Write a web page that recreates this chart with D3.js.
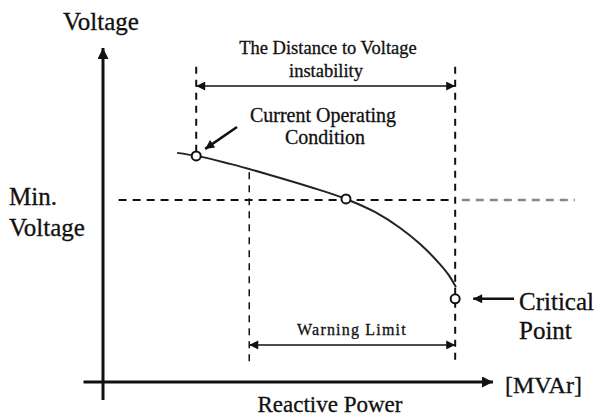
<!DOCTYPE html>
<html>
<head>
<meta charset="utf-8">
<script src="https://cdn.jsdelivr.net/npm/d3@7"></script>
<style>
  body { margin: 0; background: #fff; }
  text { font-family: "Liberation Serif", "DejaVu Serif", serif; fill: #111; stroke: #111; stroke-width: 0.3; }
</style>
</head>
<body>
<div id="chart"></div>
<script>
// Q-V curve (reactive power vs voltage), arbitrary units
var curveQ = [19, 23.9, 32.6, 42.8, 53.1, 62.3, 69.7, 76.2, 81.3, 85.9, 89, 90.5];
var curveV = [68.6, 67.7, 65.3, 62, 58.4, 54.8, 50.9, 46.1, 41.3, 35.9, 31.4, 28.4];

// marked points: current operating condition, min voltage crossing, critical point
var pointNames = ["current", "minCross", "critical"];
var pointQ = [23.9, 62.3, 90.3];
var pointV = [67.7, 54.8, 24.9];

var minVoltage = 54.5;
var warningQ = 37.5;

var svgWidth = 602;
var svgHeight = 418;

var svg = d3.select("#chart")
    .append("svg")
    .attr("width", svgWidth)
    .attr("height", svgHeight);

// scales
var x = d3.scaleLinear().domain([0, 100]).range([103, 493]);
var y = d3.scaleLinear().domain([0, 100]).range([382, 48]);

// arrow markers
var defs = svg.append("defs");
function addMarker(id, w, h) {
    defs.append("marker")
        .attr("id", id)
        .attr("viewBox", "0 0 10 10")
        .attr("refX", 10)
        .attr("refY", 5)
        .attr("markerUnits", "userSpaceOnUse")
        .attr("markerWidth", w)
        .attr("markerHeight", h)
        .attr("orient", "auto-start-reverse")
        .append("path")
        .attr("d", "M0,0 L10,5 L0,10 Z")
        .attr("fill", "#111");
}
addMarker("axisArrow", 16, 11);
addMarker("smallArrow", 14, 9);

// axes
svg.append("line")
    .attr("x1", x(0)).attr("y1", y(-5.4))
    .attr("x2", x(0)).attr("y2", y(100))
    .attr("stroke", "#111").attr("stroke-width", 3)
    .attr("marker-end", "url(#axisArrow)");

svg.append("line")
    .attr("x1", x(-5)).attr("y1", y(0))
    .attr("x2", x(100)).attr("y2", y(0))
    .attr("stroke", "#111").attr("stroke-width", 3)
    .attr("marker-end", "url(#axisArrow)");

// min voltage dashed line
svg.append("line")
    .attr("x1", x(4)).attr("y1", y(minVoltage))
    .attr("x2", x(90.3)).attr("y2", y(minVoltage))
    .attr("stroke", "#111").attr("stroke-width", 2)
    .attr("stroke-dasharray", "8,6");
svg.append("line")
    .attr("x1", x(92)).attr("y1", y(minVoltage))
    .attr("x2", x(121)).attr("y2", y(minVoltage))
    .attr("stroke", "#888").attr("stroke-width", 2.5)
    .attr("stroke-dasharray", "8,6");

// vertical dashed guides
svg.append("line")
    .attr("x1", x(pointQ[0])).attr("y1", y(94.4))
    .attr("x2", x(pointQ[0])).attr("y2", y(69))
    .attr("stroke", "#111").attr("stroke-width", 2)
    .attr("stroke-dasharray", "7,6");
svg.append("line")
    .attr("x1", x(90.3)).attr("y1", y(94.4))
    .attr("x2", x(90.3)).attr("y2", y(5))
    .attr("stroke", "#111").attr("stroke-width", 2)
    .attr("stroke-dasharray", "7,6");
svg.append("line")
    .attr("x1", x(warningQ)).attr("y1", y(62.8))
    .attr("x2", x(warningQ)).attr("y2", y(5))
    .attr("stroke", "#111").attr("stroke-width", 1.5)
    .attr("stroke-dasharray", "7,6");

// distance to voltage instability arrow
svg.append("line")
    .attr("x1", x(pointQ[0])).attr("y1", y(88.6))
    .attr("x2", x(90.3)).attr("y2", y(88.6))
    .attr("stroke", "#111").attr("stroke-width", 1.5)
    .attr("marker-start", "url(#smallArrow)")
    .attr("marker-end", "url(#smallArrow)");

// warning limit arrow
svg.append("line")
    .attr("x1", x(warningQ)).attr("y1", y(11.1))
    .attr("x2", x(90.3)).attr("y2", y(11.1))
    .attr("stroke", "#111").attr("stroke-width", 1.5)
    .attr("marker-start", "url(#smallArrow)")
    .attr("marker-end", "url(#smallArrow)");

// Q-V curve
var curveData = curveQ.map(function(q, i) { return {q: q, v: curveV[i]}; });
var line = d3.line()
    .x(function(d) { return x(d.q); })
    .y(function(d) { return y(d.v); })
    .curve(d3.curveMonotoneX);

svg.append("path")
    .datum(curveData)
    .attr("d", line)
    .attr("fill", "none")
    .attr("stroke", "#222")
    .attr("stroke-width", 2);

// points
svg.selectAll("circle.pt")
    .data(pointNames)
    .enter()
    .append("circle")
    .attr("class", "pt")
    .attr("cx", function(d, i) { return x(pointQ[i]); })
    .attr("cy", function(d, i) { return y(pointV[i]); })
    .attr("r", 4.5)
    .attr("fill", "#fff")
    .attr("stroke", "#111")
    .attr("stroke-width", 2);

// pointer arrows
svg.append("line")
    .attr("x1", 237).attr("y1", 127)
    .attr("x2", x(pointQ[0]) + 9).attr("y2", y(pointV[0]) - 7)
    .attr("stroke", "#111").attr("stroke-width", 2.5)
    .attr("marker-end", "url(#smallArrow)");
svg.append("line")
    .attr("x1", 514).attr("y1", y(pointV[2]))
    .attr("x2", x(pointQ[2]) + 18).attr("y2", y(pointV[2]))
    .attr("stroke", "#111").attr("stroke-width", 2.5)
    .attr("marker-end", "url(#smallArrow)");

// texts
function label(t, px, py, size, anchor, spacing) {
    svg.append("text")
        .attr("x", px).attr("y", py)
        .attr("font-size", size)
        .attr("letter-spacing", spacing || 0)
        .attr("text-anchor", anchor || "start")
        .text(t);
}
label("Voltage", 101, 30, 25, "middle");
label("Min.", 9, 205, 25);
label("Voltage", 9, 236, 25);
label("The Distance to Voltage", 328, 54, 18.5, "middle");
label("instability", 326, 77, 18.5, "middle");
label("Current Operating", 323, 122, 20, "middle");
label("Condition", 325, 144, 20, "middle");
label("Warning Limit", 352, 335, 16, "middle", 1.2);
label("Critical", 519, 310, 25);
label("Point", 519, 339, 25);
label("[MVAr]", 505, 393, 24);
label("Reactive Power", 330, 412, 23, "middle");
</script>
</body>
</html>
